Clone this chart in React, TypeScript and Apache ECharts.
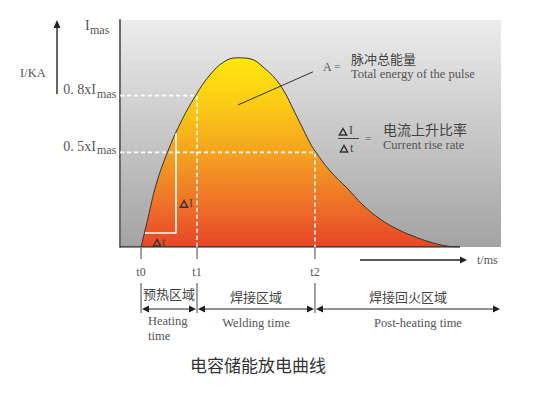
import React, { useEffect, useRef } from "react";
import * as echarts from "echarts";

// pulse current curve (time in arbitrary ms units from t0, current as fraction of Imas)
const pulseT = [0, 7, 15, 27, 39, 55, 69, 83, 96, 109, 122, 139, 156, 169, 174, 189, 206, 222, 239, 256, 272, 289, 306, 319];
const pulseI = [0, 0.153, 0.328, 0.508, 0.651, 0.804, 0.91, 0.979, 1.0, 0.995, 0.952, 0.857, 0.688, 0.55, 0.508, 0.402, 0.312, 0.222, 0.148, 0.095, 0.058, 0.026, 0.005, 0];
const markTimes = [0, 56, 174];
const markNames = ["t0", "t1", "t2"];
const levelValues = [0.8, 0.5];
const levelDigits = ["0. 8x", "0. 5x"];
const bracketT = [4, 35];
const bracketI = [0.074, 0.6];
const pointerT = [97, 172];
const pointerI = [0.751, 0.926];
const regionCn = ["预热区域", "焊接区域", "焊接回火区域"];
const regionEn = ["Welding time", "Post-heating time"];
const axisMinT = -21;
const axisMaxT = 360;
const axisMaxI = 1.2;
const title = "电容储能放电曲线";

const SERIF = '"Liberation Serif", "DejaVu Serif", serif';
const CJK = '"Noto Sans CJK SC", sans-serif';

export default function App() {
  const ref = useRef<HTMLDivElement>(null);
  useEffect(() => {
    if (!ref.current) return;
    const chart = echarts.init(ref.current, undefined, { renderer: "svg" });
    const series: any[] = [
      {
        type: "line",
        data: pulseT.map((t, i) => [t, pulseI[i]]),
        smooth: 0.4,
        symbol: "none",
        lineStyle: { color: "#333", width: 1 },
        areaStyle: {
          opacity: 1,
          color: new echarts.graphic.LinearGradient(0, 0, 0, 1, [
            { offset: 0, color: "#ffe80c" },
            { offset: 0.3, color: "#f9c417" },
            { offset: 0.55, color: "#f39a22" },
            { offset: 0.8, color: "#ed6c29" },
            { offset: 1, color: "#e84526" },
          ]),
        },
        z: 2,
      },
      {
        type: "line",
        data: [[axisMinT, 0], [pulseT[pulseT.length - 1], 0]],
        symbol: "none",
        lineStyle: { color: "#333", width: 1.5 },
        z: 3,
      },
    ];
    levelValues.forEach((v, i) => {
      const t = markTimes[i + 1];
      series.push({
        type: "line",
        data: [[axisMinT, v], [t, v], [t, 0]],
        symbol: "none",
        lineStyle: { color: "#ffffff", width: 1.6, type: [4, 3] },
        z: 4,
      });
    });
    series.push({
      type: "line",
      data: [[bracketT[0], bracketI[0]], [bracketT[1], bracketI[0]], [bracketT[1], bracketI[1]]],
      symbol: "none",
      lineStyle: { color: "#ffffff", width: 1.6 },
      z: 4,
    });
    series.push({
      type: "line",
      data: pointerT.map((t, i) => [t, pointerI[i]]),
      symbol: "none",
      lineStyle: { color: "#333", width: 1 },
      z: 4,
    });

    chart.setOption({
      animation: false,
      backgroundColor: "#ffffff",
      grid: {
        left: 120,
        top: 20,
        width: 381,
        height: 227,
        show: true,
        borderWidth: 0,
        backgroundColor: new echarts.graphic.LinearGradient(0, 0, 0, 1, [
          { offset: 0, color: "#ececec" },
          { offset: 1, color: "#a3a3a3" },
        ]),
      },
      xAxis: {
        type: "value",
        min: axisMinT,
        max: axisMaxT,
        axisLine: { show: false },
        axisTick: { show: false },
        axisLabel: { show: false },
        splitLine: { show: false },
      },
      yAxis: {
        type: "value",
        min: 0,
        max: axisMaxI,
        axisLine: { show: true, onZero: false, lineStyle: { color: "#6a6a6a", width: 2 } },
        axisTick: { show: false },
        axisLabel: { show: false },
        splitLine: { show: false },
      },
      series,
    });

    const px = (t: number, v: number) => chart.convertToPixel({ gridIndex: 0 }, [t, v]) as number[];
    const g: any[] = [];
    const text = (x: number, y: number, s: string, font: string, align = "left", fill = "#555") =>
      g.push({
        type: "text",
        x,
        y,
        z: 100,
        style: { text: s, font, fill, textAlign: align, align, textVerticalAlign: "middle", verticalAlign: "middle" },
      });
    const line = (x1: number, y1: number, x2: number, y2: number, w = 1, c = "#333") =>
      g.push({ type: "line", z: 90, shape: { x1, y1, x2, y2 }, style: { stroke: c, lineWidth: w } });
    const head = (x: number, y: number, dir: string) => {
      const L = 7, H = 3.5;
      let pts: number[][] = [];
      if (dir === "r") pts = [[x, y], [x - L, y - H], [x - L, y + H]];
      if (dir === "l") pts = [[x, y], [x + L, y - H], [x + L, y + H]];
      if (dir === "u") pts = [[x, y], [x - H, y + L + 1], [x + H, y + L + 1]];
      g.push({ type: "polygon", z: 91, shape: { points: pts }, style: { fill: "#222" } });
    };
    // hollow bold triangle (delta sign)
    const tri = (cx: number, cy: number) =>
      g.push({
        type: "polygon",
        z: 100,
        shape: { points: [[cx, cy - 3.5], [cx - 3.6, cy + 3], [cx + 3.6, cy + 3]] },
        style: { fill: "none", stroke: "#333", lineWidth: 1.5, lineJoin: "miter" },
      });

    // left axis labels
    line(57, 94, 57, 26, 1.5);
    head(57, 20, "u");
    text(20, 73, "I/KA", "12.5px " + SERIF);
    const yTop = 25;
    text(85, yTop, "I", "14px " + SERIF);
    text(90, yTop + 5, "mas", "12px " + SERIF);
    levelValues.forEach((v, i) => {
      const p = px(axisMinT, v);
      const y = p[1] - 6;
      text(96, y, levelDigits[i] + "I", "14px " + SERIF, "right");
      text(97, y + 4, "mas", "12px " + SERIF);
    });

    // delta labels in plot
    const b0 = px(bracketT[1], bracketI[0]);
    const b1 = px(bracketT[1], (bracketI[0] + bracketI[1]) / 2);
    tri(b1[0] + 8, b1[1] + 21);
    text(b1[0] + 13, b1[1] + 20, "I", "12px " + SERIF, "left", "#444");
    tri(b0[0] - 19, b0[1] + 10);
    text(b0[0] - 14, b0[1] + 9, "t", "12px " + SERIF, "left", "#444");

    // energy annotation
    const pe = px(pointerT[1], pointerI[1]);
    text(pe[0] + 10, pe[1] - 5, "A", "12px " + SERIF);
    text(pe[0] + 21, pe[1] - 6, "=", "11px " + SERIF);
    text(351, 58, "脉冲总能量", "13px " + CJK, "left", "#444");
    text(351, 74, "Total energy of the pulse", "12.5px " + SERIF);

    // rise rate annotation
    tri(343, 132);
    text(349, 130, "I", "12px " + SERIF, "left", "#444");
    line(338, 138.5, 359, 138.5, 1, "#444");
    tri(344, 149);
    text(350, 148, "t", "12px " + SERIF, "left", "#444");
    text(365, 138, "=", "11px " + SERIF);
    text(383, 129, "电流上升比率", "14px " + CJK, "left", "#444");
    text(383, 145, "Current rise rate", "12.5px " + SERIF);

    // time axis arrow
    line(360, 260, 460, 260, 1.3, "#222");
    head(467, 260, "r");
    text(477, 260, "t/ms", "12px " + SERIF);

    // timeline below
    const xs = markTimes.map((t) => px(t, 0)[0]);
    xs.forEach((x, i) => {
      line(x, 248, x, 259, 1, "#444");
      text(x, 272, markNames[i], "12px " + SERIF, "center");
      line(x, 283, x, 313, 1, "#444");
    });
    const ends = [xs[0], xs[1], xs[2], 501];
    for (let i = 0; i < 3; i++) {
      const a = ends[i] + 1, b = ends[i + 1] - 1;
      line(a + 5, 309, b - 5, 309, 1, "#222");
      head(a, 309, "l");
      head(b, 309, "r");
      const c = (ends[i] + ends[i + 1]) / 2;
      text(c, i === 0 ? 293 : 296, regionCn[i], "13px " + CJK, "center", "#444");
    }
    text(148, 321, "Heating", "12.5px " + SERIF);
    text(148, 336, "time", "12.5px " + SERIF);
    text((ends[1] + ends[2]) / 2, 323, regionEn[0], "12.5px " + SERIF, "center");
    text((ends[2] + ends[3]) / 2 + 10, 323, regionEn[1], "12.5px " + SERIF, "center");

    // title
    text(258, 364, title, "17px " + CJK, "center", "#333");

    chart.setOption({ graphic: g });
    return () => chart.dispose();
  }, []);
  return <div ref={ref} style={{ width: 533, height: 394, position: "absolute", left: 0, top: 0 }} />;
}
